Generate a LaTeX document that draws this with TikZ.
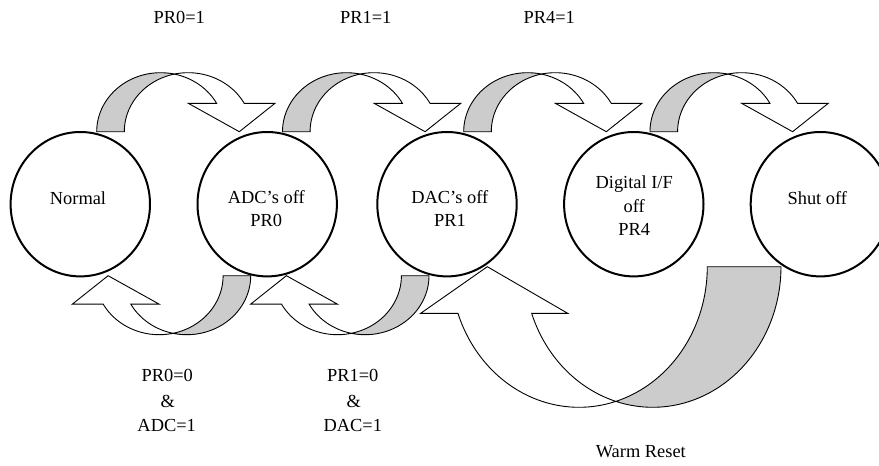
\documentclass[tikz,border=0pt]{standalone}
\usepackage{fontspec}
\setmainfont{Liberation Serif}
\usetikzlibrary{shapes.geometric}
\definecolor{bandgray}{RGB}{204,204,204}
\tikzset{
  backband/.style={fill=bandgray, draw=black, line width=0.9pt, line join=miter},
  frontband/.style={fill=white, draw=black, line width=0.9pt, line join=miter},
  stateell/.style={ellipse, draw=black, line width=2pt, minimum width=139.4pt, minimum height=144.4pt, inner sep=0pt},
  lbl/.style={font=\fontsize{18.4}{22}\selectfont, inner sep=0pt, anchor=base}
}
% curved block arrow in local coordinates: a, b, thickness, head-base height, head left, head right, tip x
\newcommand{\curvarrow}[7]{%
  \pgfmathsetmacro{\cA}{#1}%
  \pgfmathsetmacro{\cB}{#2}%
  \pgfmathsetmacro{\cT}{#3}%
  \pgfmathsetmacro{\cH}{#4}%
  \pgfmathsetmacro{\aOne}{acos(\cT/(2*\cA))}%
  \pgfmathsetmacro{\aTwo}{180-\aOne}%
  \pgfmathsetmacro{\aH}{asin(\cH/\cB)}%
  \filldraw[backband] plot[domain=180:\aOne] ({\cA+\cA*cos(\x)},{-\cB*sin(\x)})
     -- plot[domain=\aTwo:180] ({\cA+\cT+\cA*cos(\x)},{-\cB*sin(\x)}) -- cycle;
  \filldraw[frontband] plot[domain=\aTwo:\aH] ({\cA+\cT+\cA*cos(\x)},{-\cB*sin(\x)})
     -- (#6,-\cH) -- (#7,0) -- (#5,-\cH)
     -- plot[domain=\aH:\aOne] ({\cA+\cA*cos(\x)},{-\cB*sin(\x)}) -- cycle;
}
\begin{document}
\begin{tikzpicture}[x=1pt, y=-1pt, samples=60]
\useasboundingbox (0,0) rectangle (879,466);

% top arrows (transitions to the right)
\begin{scope}[shift={(96.7,131.7)}]\curvarrow{63.9}{59}{27.6}{28.4}{91.6}{178.3}{142.6}\end{scope}
\begin{scope}[shift={(282.5,131.7)}]\curvarrow{63.9}{59}{27.6}{28.4}{91.6}{178.3}{142.6}\end{scope}
\begin{scope}[shift={(463.7,131.7)}]\curvarrow{63.9}{59}{27.6}{28.4}{91.6}{178.3}{142.6}\end{scope}
\begin{scope}[shift={(650,131.7)}]\curvarrow{63.9}{59}{27.6}{28.4}{91.6}{178.3}{142.6}\end{scope}

% bottom arrows (transitions back)
\begin{scope}[shift={(250.7,275.7)}, rotate=180]\curvarrow{63.9}{59}{27.6}{28.4}{91.6}{178.3}{142.6}\end{scope}
\begin{scope}[shift={(429,275.7)}, rotate=180]\curvarrow{63.9}{59}{27.6}{28.4}{91.6}{178.3}{142.6}\end{scope}

% warm reset arrow
\begin{scope}[shift={(781,266.7)}, rotate=180]\curvarrow{128.3}{140.6}{73.7}{46.6}{213.3}{360.3}{293.7}\end{scope}

% states
\node[stateell] (normal) at (80.3,204.2) {};
\node[stateell] (adc) at (267.2,204.2) {};
\node[stateell] (dac) at (447,204.2) {};
\node[stateell] (dig) at (633.8,204.2) {};
\node[stateell] (shut) at (820.4,204.2) {};

\node[lbl] (tnormal) at (78,204) {Normal};
\node[lbl] (tadc1) at (266.3,203.7) {ADC's off};
\node[lbl] (tadc2) at (266.3,226.7) {PR0};
\node[lbl] (tdac1) at (449.8,203.5) {DAC's off};
\node[lbl] (tdac2) at (450,226.2) {PR1};
\node[lbl] (tdig1) at (634.2,188.5) {Digital I/F};
\node[lbl] (tdig2) at (634.2,212) {off};
\node[lbl] (tdig3) at (634.2,235) {PR4};
\node[lbl] (tshut) at (817.3,204) {Shut off};

% transition labels
\node[lbl] (l01) at (179.3,23.3) {PR0=1};
\node[lbl] (l11) at (365.7,23.3) {PR1=1};
\node[lbl] (l41) at (549.3,23.3) {PR4=1};
\node[lbl] (l00a) at (167.2,381.7) {PR0=0};
\node[lbl] (l00b) at (167.8,407.7) {\&};
\node[lbl] (l00c) at (166.7,431.7) {ADC=1};
\node[lbl] (l10a) at (352.8,381.7) {PR1=0};
\node[lbl] (l10b) at (353.8,407.7) {\&};
\node[lbl] (l10c) at (352.8,431.7) {DAC=1};
\node[lbl] (lwarm) at (640.8,457.3) {Warm Reset};
\end{tikzpicture}
\end{document}
